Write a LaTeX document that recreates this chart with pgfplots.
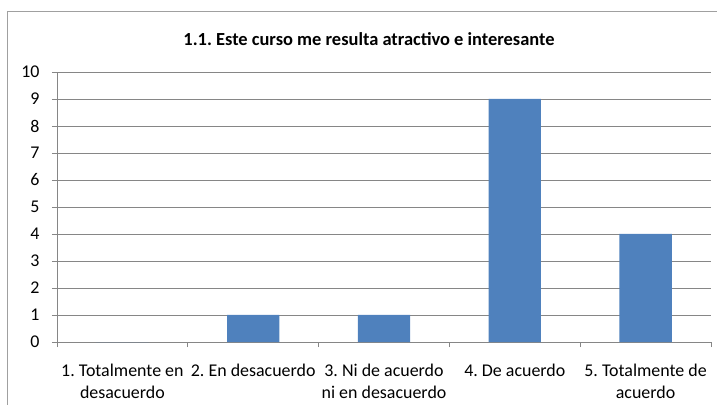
\documentclass[border=0pt]{standalone}
\usepackage{pgfplots}
\pgfplotsset{compat=1.18}
\usepackage{fontspec}
\setmainfont{Carlito}
\frenchspacing
\definecolor{barblue}{HTML}{4F81BD}
\definecolor{gridgray}{HTML}{868686}
\definecolor{framegray}{HTML}{A0A0A0}
\begin{document}
\begin{tikzpicture}
\useasboundingbox (0,0) rectangle (717bp,405bp);
% chart frame (cropped at right and bottom)
\draw[framegray, line width=1bp] (7bp,0) -- (7bp,393bp) -- (717bp,393bp);
\node[font=\fontsize{18.5}{22}\selectfont\bfseries] at (369bp,366bp)
  {1.1. Este curso me resulta atractivo e interesante};
\begin{axis}[
  at={(57bp,63bp)}, anchor=south west,
  scale only axis,
  width=654bp, height=270bp,
  ybar, bar width=0.4,
  xmin=0.5, xmax=5.5,
  ymin=0, ymax=10,
  ytick={0,...,10},
  xtick={1,...,5},
  xticklabels={{1. Totalmente en\\desacuerdo},{2. En desacuerdo},{3. Ni de acuerdo\\ni en desacuerdo},{4. De acuerdo},{5. Totalmente de\\acuerdo}},
  minor xtick={0.5,1.5,...,5.5},
  axis lines*=left,
  axis line style={gridgray, line width=0.8bp},
  ymajorgrids,
  grid style={gridgray, line width=0.8bp},
  tick align=outside,
  major tick length=5bp, minor tick length=5bp,
  major x tick style={draw=none},
  minor x tick style={gridgray, line width=0.8bp},
  major y tick style={gridgray, line width=0.8bp},
  every tick label/.append style={font=\fontsize{18}{22}\selectfont},
  xticklabel style={align=center, yshift=-14bp},
  yticklabel style={xshift=-9bp},
  /pgf/number format/assume math mode=true,
]
\addplot[fill=barblue, draw=none] coordinates {
  (1, 0)
  (2, 1)
  (3, 1)
  (4, 9)
  (5, 4)
};
\end{axis}
\end{tikzpicture}
\end{document}
